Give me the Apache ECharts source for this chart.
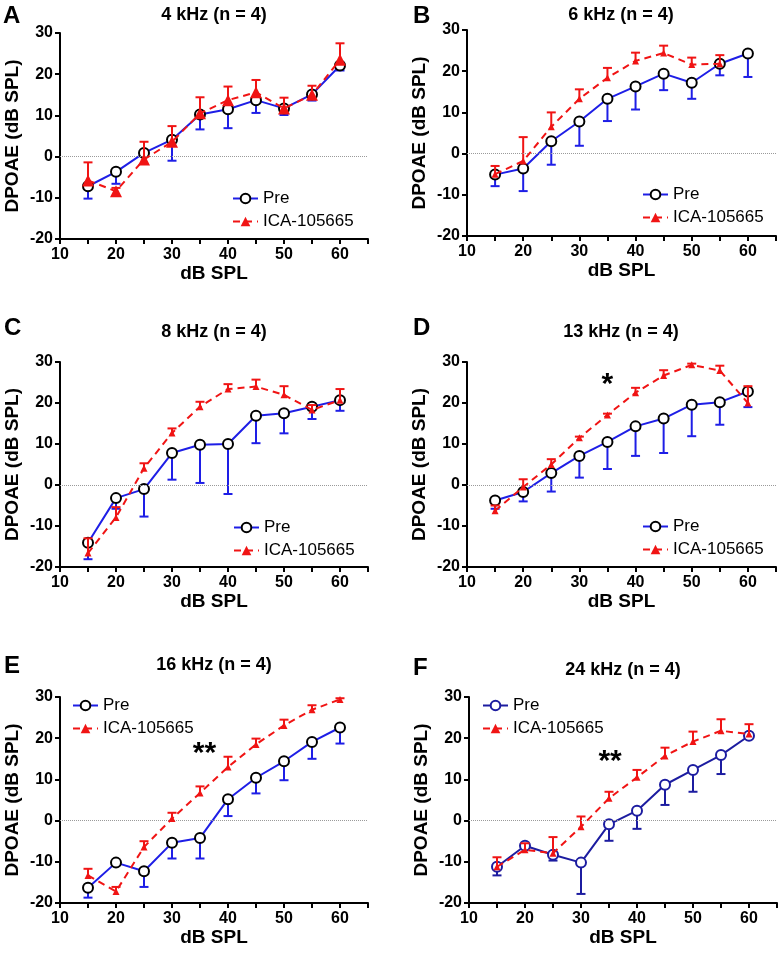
<!DOCTYPE html>
<html><head><meta charset="utf-8">
<script src="https://cdn.jsdelivr.net/npm/echarts@6/dist/echarts.min.js"></script>
<style>html,body{margin:0;padding:0;background:#fff}#c{width:784px;height:957px}</style>
</head><body><div id="c"></div>
<script>
// ---------------- DATA ----------------
const dbSPL = [15, 20, 25, 30, 35, 40, 45, 50, 55, 60];
const xTickLabels = [10, 20, 30, 40, 50, 60];
const yTickLabels = [-20, -10, 0, 10, 20, 30];

const panelLetters = ['A', 'B', 'C', 'D', 'E', 'F'];
const panelTitles = ['4 kHz (n = 4)', '6 kHz (n = 4)', '8 kHz (n = 4)', '13 kHz (n = 4)', '16 kHz (n = 4)', '24 kHz (n = 4)'];
const seriesNames = ['Pre', 'ICA-105665'];

// mean values (dB SPL) and error (SEM, drawn one-sided)
const preA    = [-7.2, -3.7, 0.9, 4.1, 10.2, 11.5, 13.7, 11.7, 15.1, 22.1];
const preAErr = [3.0, 2.9, 0.5, 5.1, 3.6, 4.6, 3.1, 1.6, 1.5, 1.2];
const icaA    = [-5.8, -8.4, -0.7, 3.6, 10.5, 13.7, 15.6, 11.7, 15.0, 23.5];
const icaAErr = [4.4, 0.8, 4.3, 3.8, 3.9, 3.3, 3.0, 2.6, 2.2, 4.0];

const preB    = [-5.1, -3.6, 3.0, 7.8, 13.3, 16.3, 19.4, 17.2, 21.8, 24.3];
const preBErr = [2.8, 5.5, 5.7, 5.9, 5.4, 5.6, 4.0, 3.9, 2.8, 5.7];
const icaB    = [-5.0, -1.8, 6.5, 13.3, 18.4, 22.5, 24.4, 21.6, 21.8, null];
const icaBErr = [2.0, 5.8, 3.5, 2.3, 2.4, 2.0, 1.8, 1.7, 2.1, null];

const preC    = [-14.1, -3.2, -1.0, 7.8, 9.8, 10.0, 16.9, 17.5, 19.1, 20.7];
const preCErr = [4.0, 2.6, 6.7, 6.5, 9.3, 12.2, 6.7, 4.9, 3.0, 2.6];
const icaC    = [-16.6, -7.9, 4.1, 12.7, 19.1, 23.4, 24.0, 22.0, 18.3, 20.7];
const icaCErr = [3.6, 2.5, 1.2, 1.1, 1.2, 1.2, 1.7, 2.1, 1.2, 2.7];

const preD    = [-3.8, -1.7, 2.9, 7.1, 10.5, 14.3, 16.2, 19.6, 20.2, 22.8];
const preDErr = [2.0, 2.3, 4.5, 5.3, 6.6, 7.2, 8.4, 7.7, 5.5, 3.8];
const icaD    = [-6.3, -0.5, 5.0, 11.5, 17.1, 22.5, 26.7, 29.3, 27.9, 20.0];
const icaDErr = [1.3, 1.9, 1.3, 0.3, 0.3, 1.2, 1.3, 0.3, 1.2, 4.1];

const preE    = [-16.3, -10.2, -12.3, -5.4, -4.2, 5.2, 10.4, 14.4, 19.1, 22.6];
const preEErr = [2.4, 0.5, 3.8, 3.8, 5.0, 4.1, 3.8, 4.6, 4.1, 3.9];
const icaE    = [-13.3, -17.2, -6.4, 0.5, 6.7, 13.0, 18.5, 23.1, 26.9, 29.4];
const icaEErr = [1.6, 1.1, 1.4, 1.4, 1.6, 2.5, 1.4, 1.4, 1.1, 0.3];

const preF    = [-11.2, -6.1, -8.3, -10.2, -0.9, 2.4, 8.7, 12.3, 15.9, 20.6];
const preFErr = [2.1, 0.5, 1.4, 7.6, 4.0, 4.4, 4.9, 5.3, 4.6, 0.5];
const icaF    = [-11.2, -7.1, -7.9, -1.5, 5.4, 10.5, 15.7, 19.2, 21.8, 21.0];
const icaFErr = [2.3, 1.6, 3.9, 2.5, 1.6, 1.8, 2.0, 2.4, 2.8, 2.4];

// significance markers
const sigPanel = [3, 4, 5];
const sigX     = [35, 35.8, 35.2];
const sigY     = [26.2, 17.9, 16.0];
const sigText  = ['*', '**', '**'];

// ---------------- LAYOUT / STYLE ----------------
const FONT = '"Liberation Sans", Arial, Helvetica, sans-serif';
const BLUE = '#1e1ee6';
const NAVY = '#1c1ca0';
const RED = '#f01414';

const pre = [preA, preB, preC, preD, preE, preF];
const preErr = [preAErr, preBErr, preCErr, preDErr, preEErr, preFErr];
const ica = [icaA, icaB, icaC, icaD, icaE, icaF];
const icaErr = [icaAErr, icaBErr, icaCErr, icaDErr, icaEErr, icaFErr];

const layout = [
  {grid: {left: 60, top: 33, width: 308, height: 206}, title: [214, 15], letter: [3, 16], legend: [227, 185]},
  {grid: {left: 467, top: 30, width: 309, height: 206}, title: [621, 15], letter: [413, 16], legend: [637, 181]},
  {grid: {left: 60, top: 362, width: 308, height: 205}, title: [214, 332], letter: [4, 328], legend: [228, 514]},
  {grid: {left: 467, top: 362, width: 309, height: 205}, title: [621, 332], letter: [413, 328], legend: [637, 513]},
  {grid: {left: 60, top: 697, width: 308, height: 206}, title: [214, 665], letter: [4, 666], legend: [67, 692]},
  {grid: {left: 469, top: 697, width: 308, height: 206}, title: [623, 670], letter: [413, 668], legend: [477, 692]}
];
const triSize = [12, 7, 7, 7, 7, 7];
const preColor = [BLUE, BLUE, BLUE, BLUE, BLUE, NAVY];
const preBorder = ['#000', '#000', '#000', '#000', '#000', NAVY];

function errRender(color, dir) {
  return function (params, api) {
    const x = api.value(0), m = api.value(1), e = api.value(2);
    const p0 = api.coord([x, m]);
    const p1 = api.coord([x, m + dir * e]);
    const hw = 4.5;
    return {
      type: 'group',
      children: [
        {type: 'line', shape: {x1: p0[0], y1: p0[1], x2: p1[0], y2: p1[1]}, style: {stroke: color, lineWidth: 2}},
        {type: 'line', shape: {x1: p1[0] - hw, y1: p1[1], x2: p1[0] + hw, y2: p1[1]}, style: {stroke: color, lineWidth: 2}}
      ]
    };
  };
}

const grids = [], xAxes = [], yAxes = [], legends = [], series = [], graphics = [];
for (let i = 0; i < 6; i++) {
  const L = layout[i];
  grids.push(L.grid);
  xAxes.push({
    type: 'value', gridIndex: i, min: 10, max: 65, interval: 5,
    name: 'dB SPL', nameLocation: 'middle', nameGap: 24,
    nameTextStyle: {fontSize: 19, fontWeight: 'bold', color: '#000', fontFamily: FONT},
    axisLine: {onZero: false, lineStyle: {color: '#000', width: 2}},
    axisTick: {show: true, length: 5, lineStyle: {color: '#000', width: 2}},
    axisLabel: {
      fontSize: 16, fontWeight: 'bold', color: '#000', fontFamily: FONT, margin: 8,
      formatter: v => (xTickLabels.indexOf(v) >= 0 ? String(v) : '')
    },
    splitLine: {show: false}
  });
  yAxes.push({
    type: 'value', gridIndex: i, min: -20, max: 30, interval: 10,
    name: 'DPOAE (dB SPL)', nameLocation: 'middle', nameGap: 38, nameRotate: 90,
    nameTextStyle: {fontSize: 19, fontWeight: 'bold', color: '#000', fontFamily: FONT},
    axisLine: {onZero: false, lineStyle: {color: '#000', width: 2}},
    axisTick: {show: true, length: 5, lineStyle: {color: '#000', width: 2}},
    axisLabel: {
      fontSize: 16, fontWeight: 'bold', color: '#000', fontFamily: FONT, margin: 7,
      formatter: v => (yTickLabels.indexOf(v) >= 0 ? String(v) : '')
    },
    splitLine: {show: false}
  });
  const nPre = seriesNames[0] + '|' + i;
  const nIca = seriesNames[1] + '|' + i;
  legends.push({
    orient: 'vertical', left: L.legend[0], top: L.legend[1],
    itemWidth: 25, itemHeight: 12, itemGap: 6, selectedMode: false,
    data: [nPre, nIca],
    formatter: n => n.split('|')[0],
    textStyle: {fontSize: 17, color: '#000', fontFamily: FONT}
  });
  series.push({
    type: 'custom', xAxisIndex: i, yAxisIndex: i, z: 2, silent: true,
    renderItem: errRender(preColor[i], -1),
    encode: {x: 0, y: 1},
    data: dbSPL.map((x, j) => [x, pre[i][j], preErr[i][j]]).filter(d => d[1] != null && d[2] != null)
  });
  series.push({
    name: nPre, type: 'line', xAxisIndex: i, yAxisIndex: i, z: 3,
    symbol: 'circle', symbolSize: 10, showAllSymbol: true,
    itemStyle: {color: '#fff', borderColor: preBorder[i], borderWidth: 2},
    lineStyle: {color: preColor[i], width: 2},
    emphasis: {disabled: true},
    data: dbSPL.map((x, j) => [x, pre[i][j]]).filter(d => d[1] != null),
    markLine: {
      silent: true, symbol: 'none', label: {show: false},
      lineStyle: {type: 'dotted', color: '#9a9a9a', width: 1},
      data: [{yAxis: 0}]
    }
  });
  series.push({
    type: 'custom', xAxisIndex: i, yAxisIndex: i, z: 4, silent: true,
    renderItem: errRender(RED, 1),
    encode: {x: 0, y: 1},
    data: dbSPL.map((x, j) => [x, ica[i][j], icaErr[i][j]]).filter(d => d[1] != null && d[2] != null)
  });
  series.push({
    name: nIca, type: 'line', xAxisIndex: i, yAxisIndex: i, z: 5,
    symbol: 'triangle', symbolSize: triSize[i], showAllSymbol: true,
    itemStyle: {color: RED},
    lineStyle: {color: RED, width: 2, type: [7, 5]},
    emphasis: {disabled: true},
    data: dbSPL.map((x, j) => [x, ica[i][j]]).filter(d => d[1] != null)
  });
  graphics.push({
    type: 'text', x: L.title[0], y: L.title[1],
    style: {text: panelTitles[i], font: 'bold 18px ' + FONT, fill: '#000', align: 'center', verticalAlign: 'middle'}
  });
  graphics.push({
    type: 'text', x: L.letter[0], y: L.letter[1],
    style: {text: panelLetters[i], font: 'bold 24px ' + FONT, fill: '#000', align: 'left', verticalAlign: 'middle'}
  });
}
// significance annotations (text placed at data coordinates)
for (let k = 0; k < sigPanel.length; k++) {
  const i = sigPanel[k];
  series.push({
    type: 'scatter', xAxisIndex: i, yAxisIndex: i, z: 6, silent: true,
    symbol: 'circle', symbolSize: 0.01, itemStyle: {color: '#000', opacity: 1},
    emphasis: {disabled: true},
    label: {
      show: true, position: 'inside', offset: [0, 7],
      formatter: () => sigText[k],
      fontSize: 30, fontWeight: 'bold', color: '#000', opacity: 1,
      textBorderWidth: 0, fontFamily: FONT
    },
    data: [[sigX[k], sigY[k]]]
  });
}

const chart = echarts.init(document.getElementById('c'), null, {renderer: 'canvas'});
chart.setOption({
  backgroundColor: '#fff',
  animation: false,
  grid: grids, xAxis: xAxes, yAxis: yAxes, legend: legends,
  series: series, graphic: graphics
});
</script>
</body></html>
